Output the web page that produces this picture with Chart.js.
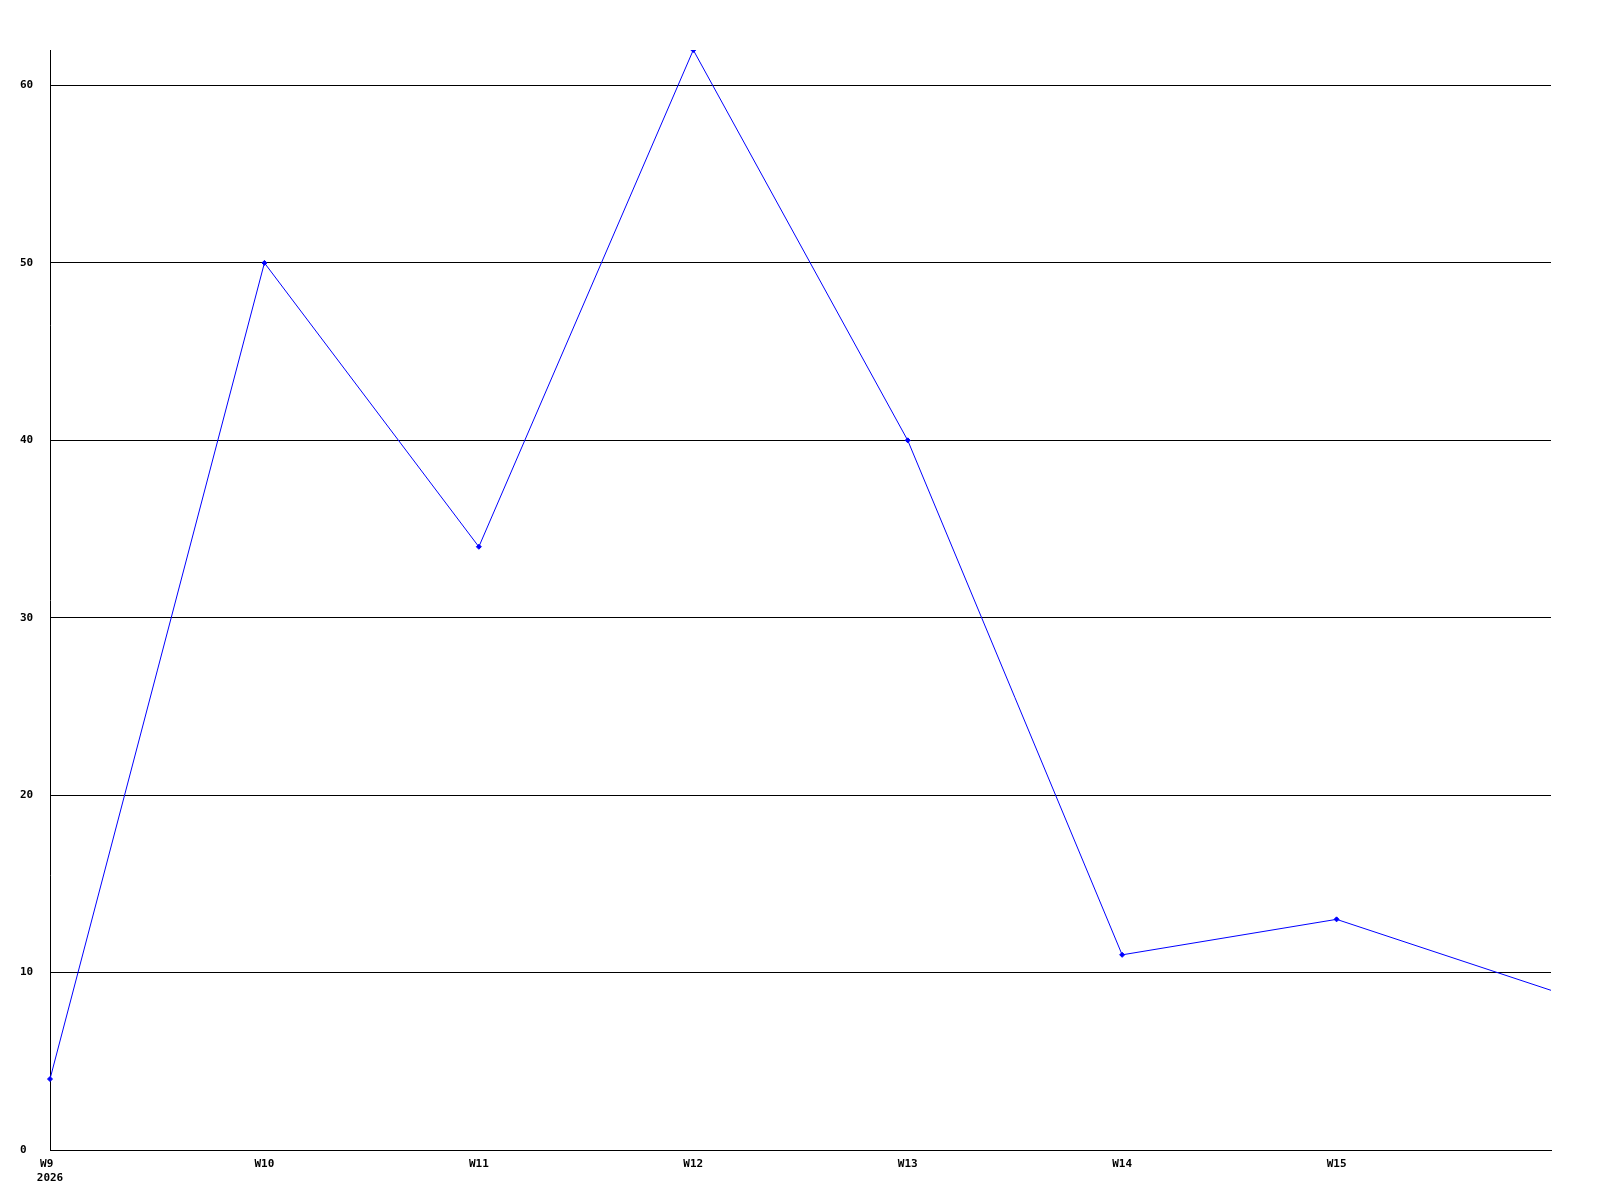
<!DOCTYPE html>
<html>
<head>
<meta charset="utf-8">
<script src="https://cdn.jsdelivr.net/npm/chart.js@4/dist/chart.umd.min.js"></script>
<style>
  html, body { margin: 0; padding: 0; background: #fff; }
</style>
</head>
<body>
<canvas id="weeklyChart" width="1600" height="1200"></canvas>
<script>
// Weekly values
const weeks = ['W9', 'W10', 'W11', 'W12', 'W13', 'W14', 'W15', 'W16'];
const yearLabel = '2026';
const counts = [4, 50, 34, 62, 40, 11, 13, 9];
const yTicks = [0, 10, 20, 30, 40, 50, 60];

const ctx = document.getElementById('weeklyChart').getContext('2d');
const tickFont = { family: 'DejaVu Sans Mono', size: 11, weight: 'bold' };
const lastIndex = weeks.length - 1;

new Chart(ctx, {
    type: 'line',
    data: {
        labels: weeks,
        datasets: [{
            data: counts,
            borderColor: '#0000ff',
            backgroundColor: '#0000ff',
            borderWidth: 1,
            tension: 0,
            // the last week runs off the right edge, no marker there
            pointRadius: c => (c.dataIndex === lastIndex ? 0 : 2.5),
            pointHoverRadius: 0,
            pointStyle: 'rectRot'
        }]
    },
    options: {
        responsive: false,
        animation: false,
        events: [],
        layout: { padding: { left: 20, right: 49, top: 50, bottom: 0 } },
        plugins: { legend: { display: false }, tooltip: { enabled: false } },
        scales: {
            x: {
                offset: false,
                grid: { display: false },
                border: { display: true, color: '#000', width: 1 },
                afterFit: scale => { scale.height = 50; },
                ticks: {
                    autoSkip: false,
                    maxRotation: 0,
                    padding: 0,
                    color: '#000',
                    font: tickFont,
                    callback: (val, i) => {
                        if (i === lastIndex) return '';
                        if (i === 0) return [weeks[0] + ' ', yearLabel];
                        return weeks[i];
                    }
                }
            },
            y: {
                min: 0,
                max: 62,
                grid: { color: '#000', lineWidth: 1, drawTicks: false },
                border: { display: true, color: '#000', width: 1 },
                afterFit: scale => { scale.width = 30; },
                afterBuildTicks: scale => { scale.ticks = yTicks.map(v => ({ value: v })); },
                ticks: {
                    crossAlign: 'far',
                    padding: 4,
                    color: '#000',
                    font: tickFont
                }
            }
        }
    }
});
</script>
</body>
</html>
